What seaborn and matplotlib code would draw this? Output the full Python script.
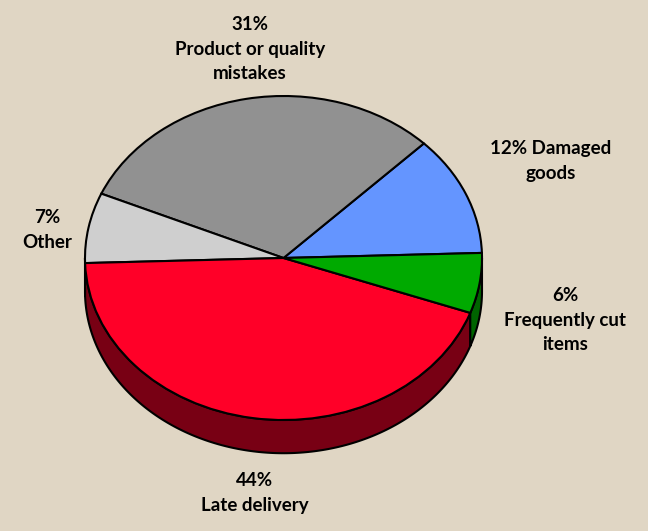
import numpy as np
import matplotlib
matplotlib.use('Agg')
import matplotlib.pyplot as plt
import seaborn as sns

# Slice data, in drawing order (counterclockwise from the start angle)
categories = ['Damaged goods', 'Product or quality mistakes', 'Other', 'Late delivery', 'Frequently cut items']
shares = [12, 31, 7, 44, 6]
label_texts = ['12% Damaged\ngoods', '31%\nProduct or quality\nmistakes', '7%\nOther',
               '44%\nLate delivery', '6%\nFrequently cut\nitems']

# Colours of the top face and the darker side wall
top_colors = ['#6495FF', '#919191', '#CFCFCF', '#FF0028', '#00AA00']
side_colors = ['#3A5BA8', '#5A5A5A', '#8A8A8A', '#780014', '#006400']

# Layout settings
bg = '#E0D6C4'
start_angle = 1.8
depth = 0.205
label_pos = [(1.348, 0.60), (-0.17, 1.29), (-1.19, 0.173), (-0.144, -1.45), (1.42, -0.383)]

sns.set_style('white')
plt.rcParams['font.family'] = ['Lato', 'DejaVu Sans']

fig = plt.figure(figsize=(6.48, 5.31), dpi=100, facecolor=bg)
ax = fig.add_axes([0, 0, 1, 1])
ax.set_facecolor(bg)

# Wedge angles from the data
fractions = np.array(shares) / np.sum(shares)
edges = start_angle + 360 * np.concatenate([[0], np.cumsum(fractions)])

# Side wall: only the front half (180..360 degrees) is visible
for i in range(len(shares)):
    a, b = max(edges[i], 180), min(edges[i + 1], 360)
    if b <= a:
        continue
    t = np.radians(np.linspace(a, b, 200))
    xs = np.concatenate([np.cos(t), np.cos(t[::-1])])
    ys = np.concatenate([np.sin(t), np.sin(t[::-1]) - depth])
    ax.fill(xs, ys, color=side_colors[i], ec='black', lw=1.5, zorder=1, joinstyle='round')

# Top face
ax.pie(shares, colors=top_colors, startangle=start_angle, counterclock=True,
       wedgeprops=dict(edgecolor='black', linewidth=1.5, zorder=2))

# Labels
for txt, (x, y) in zip(label_texts, label_pos):
    ax.text(x, y, txt, ha='center', va='center', multialignment='center',
            fontsize=13.5, fontweight='bold', color='black', linespacing=1.55)

# Squash the circle into the perspective ellipse
ax.set_aspect('auto')
ax.set_xlim(-283.5 / 198.5, (648 - 283.5) / 198.5)
ax.set_ylim(-(531 - 258) / 162, 258 / 162)
ax.axis('off')

fig.savefig('out.png', dpi=100, facecolor=bg)
